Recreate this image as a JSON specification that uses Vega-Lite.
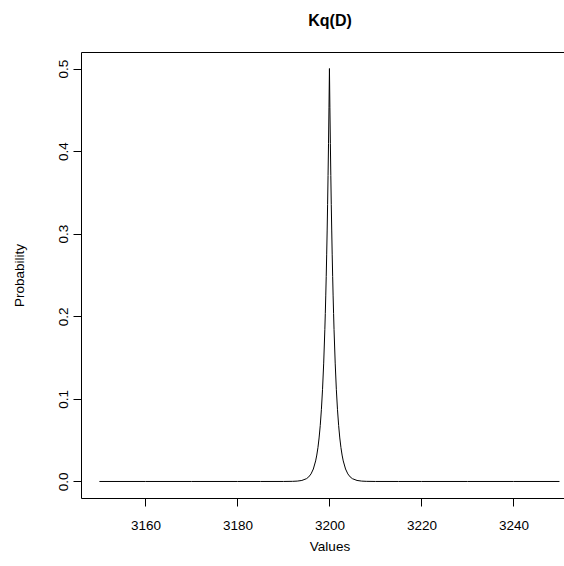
{
  "$schema": "https://vega.github.io/schema/vega-lite/v6.json",
  "width": 484,
  "height": 446,
  "autosize": {"type": "none"},
  "padding": {"left": 81, "top": 52, "right": 0, "bottom": 68},
  "background": "white",
  "title": {
    "text": "Kq(D)",
    "font": "Liberation Sans",
    "fontSize": 16,
    "fontWeight": "bold",
    "color": "black",
    "anchor": "middle",
    "dx": 7,
    "baseline": "alphabetic",
    "offset": 10
  },
  "config": {
    "view": {"stroke": "black", "strokeWidth": 1},
    "axis": {
      "grid": false,
      "domain": false,
      "ticks": true,
      "tickColor": "black",
      "tickSize": 8,
      "tickWidth": 1,
      "labelColor": "black",
      "labelFont": "Liberation Sans",
      "labelFontSize": 13.5,
      "titleColor": "black",
      "titleFont": "Liberation Sans",
      "titleFontSize": 13.5,
      "titleFontWeight": "normal"
    }
  },
  "data": {
    "values": [
      {"value": 3150, "p": 0},
      {"value": 3160, "p": 0},
      {"value": 3170, "p": 0},
      {"value": 3180, "p": 0},
      {"value": 3185, "p": 0},
      {"value": 3190, "p": 0.00002},
      {"value": 3192, "p": 0.00017},
      {"value": 3193, "p": 0.00046},
      {"value": 3194, "p": 0.00124},
      {"value": 3195, "p": 0.00337},
      {"value": 3195.5, "p": 0.00555},
      {"value": 3196, "p": 0.00916},
      {"value": 3196.5, "p": 0.0151},
      {"value": 3197, "p": 0.0249},
      {"value": 3197.25, "p": 0.032},
      {"value": 3197.5, "p": 0.041},
      {"value": 3197.75, "p": 0.0527},
      {"value": 3198, "p": 0.0677},
      {"value": 3198.25, "p": 0.0869},
      {"value": 3198.5, "p": 0.1116},
      {"value": 3198.75, "p": 0.1433},
      {"value": 3199, "p": 0.1839},
      {"value": 3199.1, "p": 0.2033},
      {"value": 3199.2, "p": 0.2247},
      {"value": 3199.3, "p": 0.2483},
      {"value": 3199.4, "p": 0.2744},
      {"value": 3199.5, "p": 0.3033},
      {"value": 3199.6, "p": 0.3352},
      {"value": 3199.7, "p": 0.3704},
      {"value": 3199.8, "p": 0.4094},
      {"value": 3199.9, "p": 0.4524},
      {"value": 3200, "p": 0.5},
      {"value": 3200.1, "p": 0.4524},
      {"value": 3200.2, "p": 0.4094},
      {"value": 3200.3, "p": 0.3704},
      {"value": 3200.4, "p": 0.3352},
      {"value": 3200.5, "p": 0.3033},
      {"value": 3200.6, "p": 0.2744},
      {"value": 3200.7, "p": 0.2483},
      {"value": 3200.8, "p": 0.2247},
      {"value": 3200.9, "p": 0.2033},
      {"value": 3201, "p": 0.1839},
      {"value": 3201.25, "p": 0.1433},
      {"value": 3201.5, "p": 0.1116},
      {"value": 3201.75, "p": 0.0869},
      {"value": 3202, "p": 0.0677},
      {"value": 3202.25, "p": 0.0527},
      {"value": 3202.5, "p": 0.041},
      {"value": 3202.75, "p": 0.032},
      {"value": 3203, "p": 0.0249},
      {"value": 3203.5, "p": 0.0151},
      {"value": 3204, "p": 0.00916},
      {"value": 3204.5, "p": 0.00555},
      {"value": 3205, "p": 0.00337},
      {"value": 3206, "p": 0.00124},
      {"value": 3207, "p": 0.00046},
      {"value": 3208, "p": 0.00017},
      {"value": 3210, "p": 0.00002},
      {"value": 3215, "p": 0},
      {"value": 3220, "p": 0},
      {"value": 3230, "p": 0},
      {"value": 3240, "p": 0},
      {"value": 3250, "p": 0}
    ]
  },
  "mark": {"type": "line", "color": "black", "strokeWidth": 1},
  "encoding": {
    "x": {
      "field": "value",
      "type": "quantitative",
      "scale": {"domain": [3146, 3251.2], "nice": false, "zero": false},
      "axis": {
        "title": "Values",
        "values": [3160, 3180, 3200, 3220, 3240],
        "format": "d",
        "labelBaseline": "top",
        "labelAlign": "center",
        "labelPadding": 12,
        "labelFlush": false,
        "titleX": 248.5,
        "titleY": 52,
        "titleAlign": "center",
        "titleBaseline": "alphabetic"
      }
    },
    "y": {
      "field": "p",
      "type": "quantitative",
      "scale": {"domain": [-0.02, 0.52], "nice": false, "zero": false},
      "axis": {
        "title": "Probability",
        "values": [0, 0.1, 0.2, 0.3, 0.4, 0.5],
        "format": ".1f",
        "labelAngle": 270,
        "labelAlign": "center",
        "labelBaseline": "alphabetic",
        "labelPadding": 6,
        "labelFlush": false,
        "titleAngle": 270,
        "titleX": -57.6,
        "titleY": 223,
        "titleAlign": "center",
        "titleBaseline": "alphabetic"
      }
    }
  }
}
